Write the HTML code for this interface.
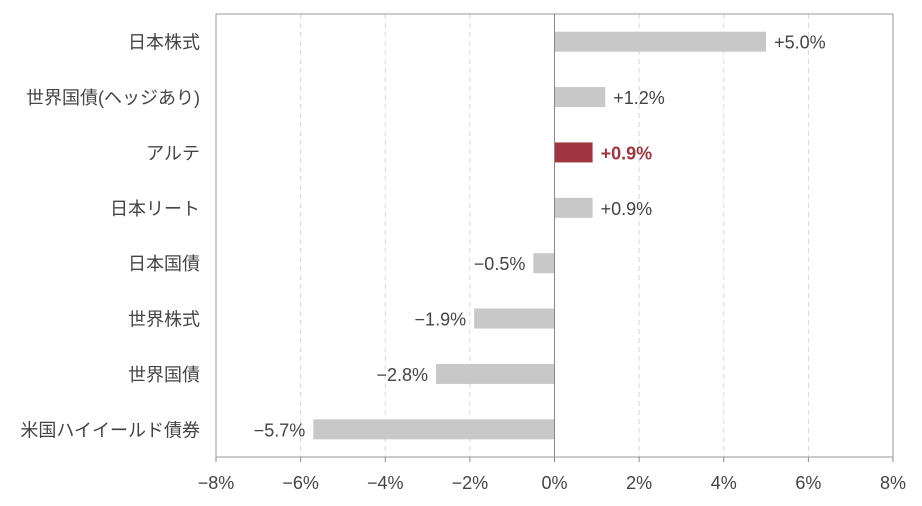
<!DOCTYPE html>
<html><head><meta charset="utf-8"><style>
body{margin:0;background:#fff}
svg text{font-family:"Liberation Sans","Noto Sans CJK JP",sans-serif}
</style></head><body>
<svg id="c" width="922" height="501"></svg>
<script>
const categories=["日本株式","世界国債(ヘッジあり)","アルテ","日本リート","日本国債","世界株式","世界国債","米国ハイイールド債券"];
const values=[5.0,1.2,0.9,0.9,-0.5,-1.9,-2.8,-5.7];
const labels=["+5.0%","+1.2%","+0.9%","+0.9%","−0.5%","−1.9%","−2.8%","−5.7%"];
const ticks=[-8,-6,-4,-2,0,2,4,6,8];
const tickLabels=["−8%","−6%","−4%","−2%","0%","2%","4%","6%","8%"];
const highlight=2;
const L=216,R=893,T=14,B=457;
const x=v=>L+(v+8)/16*(R-L);
const rowH=(B-T)/categories.length;
const y=i=>T+rowH*(i+0.5);
const svg=document.getElementById('c');
const NS='http://www.w3.org/2000/svg';
function mk(t,a,p){const e=document.createElementNS(NS,t);for(const k in a)e.setAttribute(k,a[k]);(p||svg).appendChild(e);return e;}
ticks.forEach((t,i)=>{
  if(t!==0&&t!==-8&&t!==8){const g=mk('line',{x1:x(t),x2:x(t),y1:T,y2:B,stroke:'#d8d8d8','stroke-dasharray':'5,4'});
  
  }
  const tk=mk('line',{x1:x(t),x2:x(t),y1:B,y2:B+5,stroke:'#888'});
  
  
  const tl=mk('text',{x:x(t),y:B+32,'text-anchor':'middle','font-size':18,fill:'#444'});
  tl.textContent=tickLabels[i];
  
  
});
const fr=mk('rect',{x:L,y:T,width:R-L,height:B-T,fill:'none',stroke:'#999'});


categories.forEach((c,i)=>{
  const v=values[i],cy=y(i),hl=i===highlight;
  const b=mk('rect',{x:Math.min(x(0),x(v)),y:cy-10,width:Math.abs(x(v)-x(0)),height:20,fill:hl?'#a0353f':'#c8c8c8'});
  
  
  const vl=mk('text',{x:v>=0?x(v)+8:x(v)-8,y:cy+7,'text-anchor':v>=0?'start':'end','font-size':18,fill:hl?'#a0353f':'#444','font-weight':hl?'bold':'normal'});
  vl.textContent=labels[i];
  
  
  const cl=mk('text',{x:L-16,y:cy+7,'text-anchor':'end','font-size':18,fill:'#444'});
  cl.textContent=c;
  
  
});
const z=mk('line',{x1:x(0),x2:x(0),y1:T,y2:B,stroke:'#888'});


</script>
</body></html>
